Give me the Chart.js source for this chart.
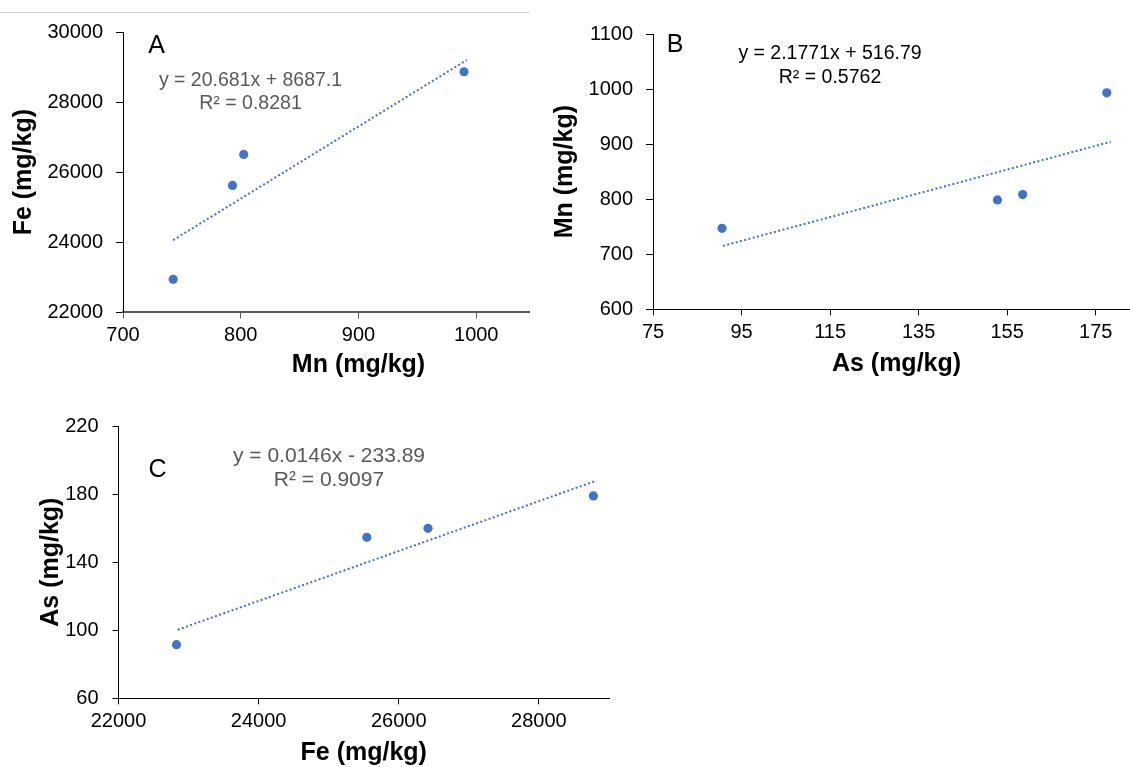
<!DOCTYPE html>
<html>
<head>
<meta charset="utf-8">
<script src="https://cdn.jsdelivr.net/npm/chart.js@4.4.1/dist/chart.umd.min.js"></script>
<style>
  html, body { margin: 0; padding: 0; background: #fff; overflow: hidden; }
  body { width: 1130px; height: 767px; position: relative; }
  .box { position: absolute; overflow: hidden; }
  .topline { position: absolute; left: 0; top: 12px; width: 530px; height: 1px; background: #d4d4d4; }
</style>
</head>
<body>
<div class="topline"></div>
<div class="box" style="left:0;top:0;width:530px;height:390px"><canvas id="chartA" width="640" height="390"></canvas></div>
<div class="box" style="left:540px;top:0;width:590px;height:390px"><canvas id="chartB" width="620" height="390"></canvas></div>
<div class="box" style="left:0;top:400px;width:640px;height:367px"><canvas id="chartC" width="640" height="367"></canvas></div>
<script>
// A: Mn vs Fe
var mnA = [742.6, 793, 802.5, 989.6];
var feA = [22940, 25620, 26505, 28866];
var trendAx = [742.6, 992];
var trendAy = [24060, 29200];
var ticksAx = [700, 800, 900, 1000, 1100];
var ticksAy = [22000, 24000, 26000, 28000, 30000];

// B: As vs Mn
var asB = [90.6, 152.8, 158.5, 177.5];
var mnB = [747, 798.7, 808.3, 993.2];
var trendBx = [90.8, 178.4];
var trendBy = [715.2, 904.3];
var ticksBx = [75, 95, 115, 135, 155, 175];
var ticksBy = [600, 700, 800, 900, 1000, 1100];

// C: Fe vs As
var feC = [22828, 25544, 26417, 28777];
var asC = [91.5, 154.6, 159.9, 178.9];
var trendCx = [22845, 28822];
var trendCy = [100.3, 187.9];
var ticksCx = [22000, 24000, 26000, 28000];
var ticksCy = [60, 100, 140, 180, 220];

Chart.defaults.font.family = '"Liberation Sans", Arial, sans-serif';
Chart.defaults.color = '#000';

var FONT = '"Liberation Sans", Arial, sans-serif';
var BLUE = '#4472C4';

var notesPlugin = {
    id: 'notes',
    afterDraw: function(chart, args, opts) {
        var ctx = chart.ctx;
        ctx.save();
        ctx.textAlign = 'center';
        ctx.textBaseline = 'middle';
        opts.items.forEach(function(n) {
            ctx.font = n.size + 'px ' + FONT;
            ctx.fillStyle = n.color;
            ctx.fillText(n.text, n.x, n.y);
        });
        ctx.restore();
    }
};

function pairs(xs, ys) {
    return xs.map(function(x, i) { return {x: x, y: ys[i]}; });
}

function axis(o) {
    return {
        type: 'linear',
        min: o.min,
        max: o.max,
        afterBuildTicks: function(s) { s.ticks = o.ticks.map(function(v) { return {value: v}; }); },
        afterFit: function(s) { if (o.width) s.width = o.width; if (o.height) s.height = o.height; },
        ticks: {
            font: {size: 20},
            padding: o.tickPad,
            callback: function(v) { return String(v); }
        },
        grid: {
            drawOnChartArea: false,
            drawTicks: true,
            tickLength: o.tickLen,
            color: o.color || '#000'
        },
        border: {display: true, color: o.color || '#000', width: o.borderWidth || 1},
        title: {
            display: true,
            text: o.title,
            font: {size: 25, weight: 'bold', lineHeight: 1},
            padding: o.titlePad
        }
    };
}

function makeChart(id, pts, trend, xAxis, yAxis, pad, notes) {
    return new Chart(document.getElementById(id), {
        type: 'scatter',
        data: {
            datasets: [{
                label: 'data',
                data: pts,
                backgroundColor: BLUE,
                borderWidth: 0,
                pointRadius: 4.6,
                pointHoverRadius: 4.6
            }, {
                type: 'line',
                label: 'trend',
                data: trend,
                borderColor: BLUE,
                borderWidth: 2,
                borderDash: [2, 2.4],
                pointRadius: 0,
                fill: false
            }]
        },
        options: {
            responsive: false,
            animation: false,
            layout: {padding: pad},
            scales: {x: axis(xAxis), y: axis(yAxis)},
            plugins: {
                legend: {display: false},
                tooltip: {enabled: false},
                notes: {items: notes}
            }
        },
        plugins: [notesPlugin]
    });
}

makeChart('chartA', pairs(mnA, feA), pairs(trendAx, trendAy),
    {min: 700, max: 1100, ticks: ticksAx, height: 77.7, tickLen: 6, tickPad: 5,
     title: 'Mn (mg/kg)', titlePad: {top: 0, bottom: 12.5}, color: '#595959', borderWidth: 2},
    {min: 22000, max: 30000, ticks: ticksAy, width: 123, tickLen: 7, tickPad: 13,
     title: 'Fe (mg/kg)', titlePad: {top: 12, bottom: 0}},
    {top: 32, right: 46, left: 0, bottom: 0},
    [{text: 'A', x: 156.5, y: 46, size: 25, color: '#000'},
     {text: 'y = 20.681x + 8687.1', x: 250.5, y: 80.7, size: 19.5, color: '#595959'},
     {text: 'R² = 0.8281', x: 250.5, y: 104, size: 19.5, color: '#595959'}]);

makeChart('chartB', pairs(asB, mnB), pairs(trendBx, trendBy),
    {min: 75, max: 185, ticks: ticksBx, height: 80.7, tickLen: 6, tickPad: 5,
     title: 'As (mg/kg)', titlePad: {top: 0, bottom: 13.5}},
    {min: 600, max: 1100, ticks: ticksBy, width: 113, tickLen: 7, tickPad: 13,
     title: 'Mn (mg/kg)', titlePad: {top: 12.8, bottom: 0}},
    {top: 34, right: 20, left: 0, bottom: 0},
    [{text: 'B', x: 135, y: 45, size: 25, color: '#000'},
     {text: 'y = 2.1771x + 516.79', x: 290, y: 53.5, size: 19.5, color: '#000'},
     {text: 'R² = 0.5762', x: 290, y: 77.5, size: 19.5, color: '#000'}]);

makeChart('chartC', pairs(feC, asC), pairs(trendCx, trendCy),
    {min: 22000, max: 29000, ticks: ticksCx, height: 68.7, tickLen: 6, tickPad: 5,
     title: 'Fe (mg/kg)', titlePad: {top: 0, bottom: 1.5}},
    {min: 60, max: 220, ticks: ticksCy, width: 118.5, tickLen: 6, tickPad: 14,
     title: 'As (mg/kg)', titlePad: {top: 38.7, bottom: 0}},
    {top: 24, right: 31, left: 0, bottom: 0},
    [{text: 'C', x: 157.5, y: 70, size: 25, color: '#000'},
     {text: 'y = 0.0146x - 233.89', x: 329, y: 56, size: 21, color: '#595959'},
     {text: 'R² = 0.9097', x: 329, y: 80.5, size: 21, color: '#595959'}]);
</script>
</body>
</html>
